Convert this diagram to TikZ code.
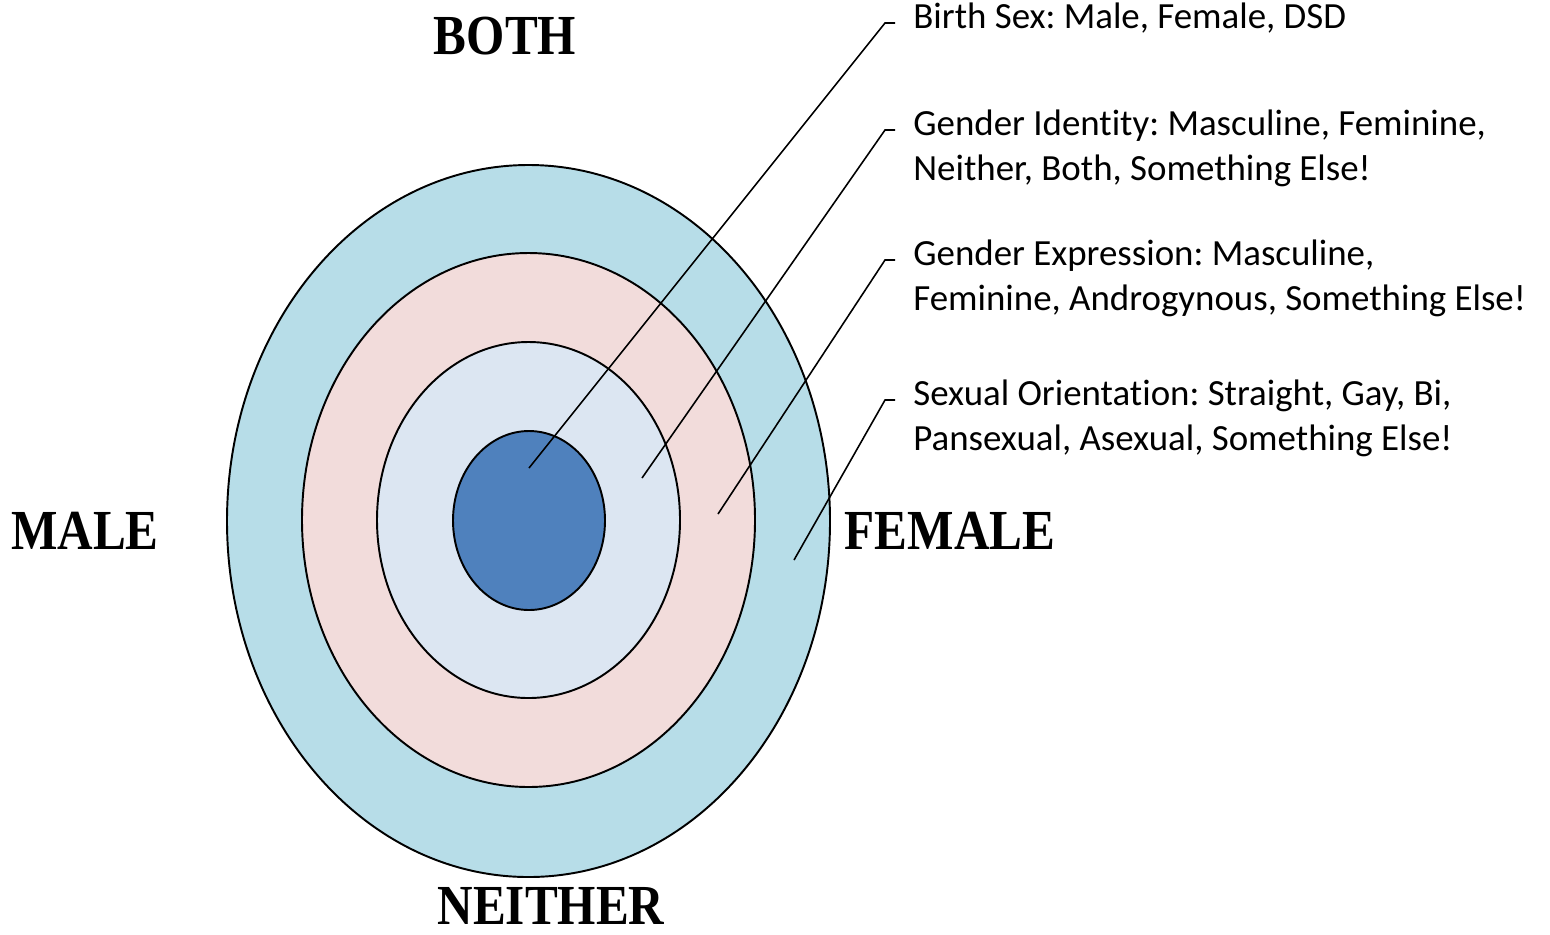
\documentclass[tikz,border=0pt]{standalone}
\usepackage{fontspec}
\setmainfont{Carlito}[Ligatures=NoCommon]
\newfontfamily\capsfont{Liberation Serif}
\usetikzlibrary{calc}
\definecolor{ringout}{HTML}{B7DDE8}
\definecolor{ringtwo}{HTML}{F2DCDB}
\definecolor{ringthree}{HTML}{DCE6F2}
\definecolor{ringcore}{HTML}{4F81BD}
\newcommand{\tallcaps}[1]{\scalebox{1}[1.15]{#1}}
\frenchspacing

\begin{document}
\begin{tikzpicture}[x=0.02cm, y=-0.02cm,
  ring/.style={draw=black, line width=1.1pt},
  axislabel/.style={font=\capsfont\bfseries\fontsize{28}{32}\selectfont, inner sep=0pt},
  layertext/.style={font=\fontsize{21}{25.6}\selectfont, align=left, anchor=base west, inner sep=0pt},
  leader/.style={draw=black, line width=0.9pt}]
  \useasboundingbox (0,0) rectangle (1550,934);
  % rings, outside in
  \path[ring, fill=ringout] (528.5,521) ellipse [x radius=301.5, y radius=356];
  \path[ring, fill=ringtwo] (528.5,520) ellipse [x radius=226.5, y radius=267];
  \path[ring, fill=ringthree] (528.5,520) ellipse [x radius=151.5, y radius=178];
  \path[ring, fill=ringcore] (529,520.5) ellipse [x radius=76, y radius=89.5];
  % axis labels
  \node[axislabel] (both) at (505,36) {\tallcaps{BOTH}};
  \node[axislabel] (male) at (85,531) {\tallcaps{MALE}};
  \node[axislabel] (female) at (950,531) {\tallcaps{FEMALE}};
  \node[axislabel] (neither) at (551,906) {\tallcaps{NEITHER}};
  % layer descriptions (base = last line)
  \node[layertext] (sex) at (913,28) {Birth Sex: Male, Female, DSD};
  \node[layertext] (ident) at (913,180) {Gender Identity: Masculine, Feminine,\\Neither, Both, Something Else!};
  \node[layertext] (expr) at (913,310) {Gender Expression: Masculine,\\Feminine, Androgynous, Something Else!};
  \node[layertext] (orient) at (913,450) {Sexual Orientation: Straight, Gay, Bi,\\Pansexual, Asexual, Something Else!};
  \coordinate (insex) at (529,468);
  \coordinate (inident) at (642,478);
  \coordinate (inexpr) at (718,514);
  \coordinate (inorient) at (794,560);
  \draw[leader] (insex) -- ($(sex.base west)+(-28,-5)$) -- ++(10,0);
  \draw[leader] (inident) -- ($(ident.base west)+(-28,-50)$) -- ++(10,0);
  \draw[leader] (inexpr) -- ($(expr.base west)+(-28,-50)$) -- ++(10,0);
  \draw[leader] (inorient) -- ($(orient.base west)+(-28,-50)$) -- ++(10,0);
\end{tikzpicture}
\end{document}
